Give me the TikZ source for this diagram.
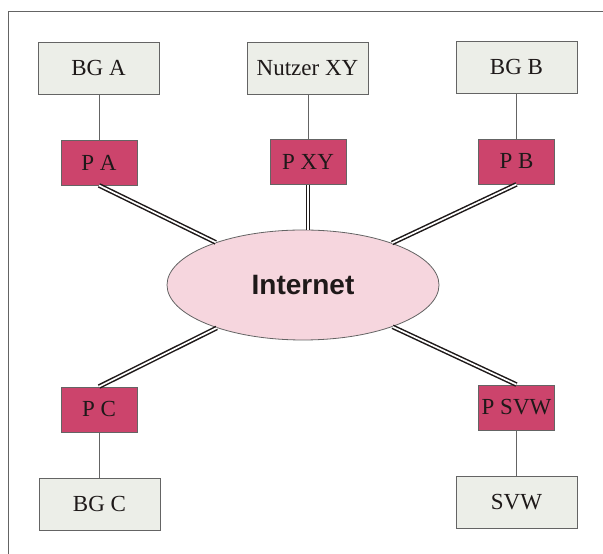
\documentclass[tikz,border=0pt]{standalone}
\usepackage{fontspec}
\setmainfont{Liberation Serif}
\setsansfont{Liberation Sans}
\usetikzlibrary{shapes.geometric}
\definecolor{boxgray}{RGB}{236,238,232}
\definecolor{pred}{RGB}{204,68,108}
\definecolor{pinkfill}{RGB}{246,214,222}
\definecolor{framegray}{RGB}{100,100,100}
\definecolor{ink}{RGB}{30,25,25}
\tikzset{
  x=1pt, y=1pt,
  graybox/.style={draw=framegray, line width=0.8pt, fill=boxgray, minimum width=121pt, minimum height=52pt, inner sep=0pt, font=\fontsize{23}{26}\selectfont, text=ink},
  pbox/.style={draw=framegray, line width=0.8pt, fill=pred, minimum width=76pt, minimum height=45pt, inner sep=0pt, font=\fontsize{23}{26}\selectfont, text=ink},
  cloud/.style={ellipse, draw=framegray, line width=0.8pt, fill=pinkfill, minimum width=272pt, minimum height=110pt, inner sep=0pt, font=\sffamily\bfseries\fontsize{28}{32}\selectfont, text=ink},
  link/.style={draw=ink, line width=1.5pt, double=white, double distance=1.7pt},
  thin/.style={draw=framegray, line width=0.8pt}
}
\begin{document}
\begin{tikzpicture}
\useasboundingbox (0,0) rectangle (603,554);
\fill[white] (0,0) rectangle (603,554);
\draw[framegray, line width=0.9pt] (8,0) -- (8,543) -- (603,543);
% nodes
\node[graybox] (bga) at (98.5,486) {BG A};
\node[graybox] (nxy) at (307.5,486) {Nutzer XY};
\node[graybox] (bgb) at (516.5,487) {BG B};
\node[pbox] (pa) at (99,391.5) {P A};
\node[pbox] (pxy) at (308,392) {P XY};
\node[pbox] (pb) at (516.5,392.5) {P B};
\node[pbox] (pc) at (99,144.5) {P C};
\node[pbox] (psvw) at (516.5,146.5) {P SVW};
\node[graybox] (bgc) at (99.5,49.5) {BG C};
\node[graybox] (svw) at (516.5,51.5) {SVW};
\node[cloud] (inet) at (303,269) {Internet};
% thin links
\draw[thin] (pa.north) -- (pa.north |- bga.south);
\draw[thin] (pxy.north) -- (pxy.north |- nxy.south);
\draw[thin] (pb.north) -- (pb.north |- bgb.south);
\draw[thin] (pc.south) -- (pc.south |- bgc.north);
\draw[thin] (psvw.south) -- (psvw.south |- svw.north);
% double links
\draw[link] (pa.south) -- (inet);
\draw[link] (pxy.south) -- (pxy.south |- inet.north);
\draw[link] (pb.south) -- (inet);
\draw[link] (pc.north) -- (inet);
\draw[link] (psvw.north) -- (inet);
\end{tikzpicture}
\end{document}
